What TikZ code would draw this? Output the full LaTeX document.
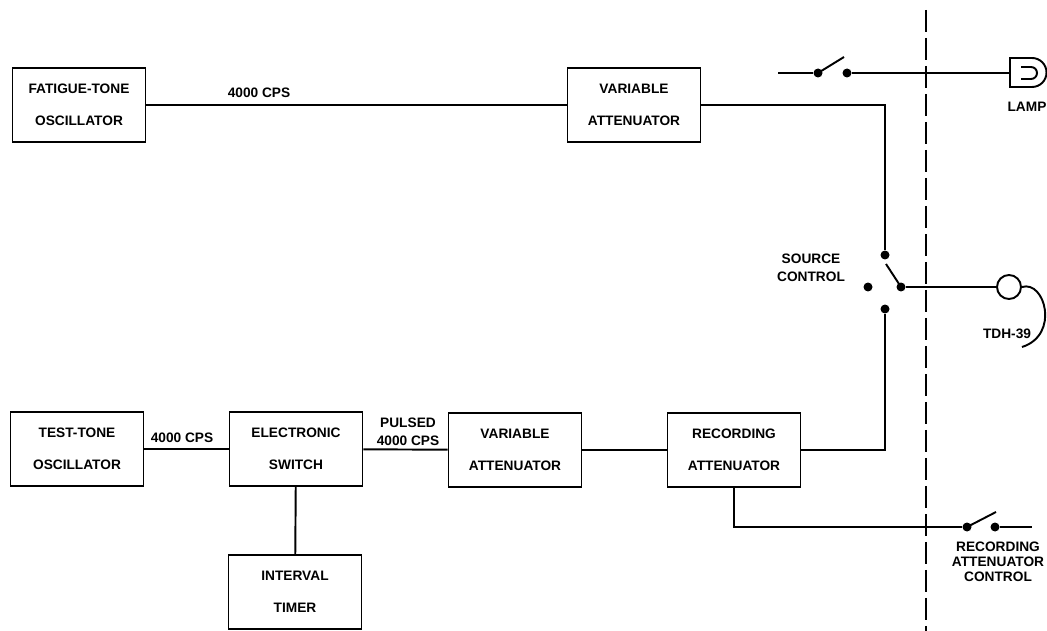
\documentclass[tikz,border=0pt]{standalone}
\usepackage{fontspec}
\setmainfont{Liberation Sans}
\usetikzlibrary{positioning}
\tikzset{block/.style={
    draw, line width=1.1pt, minimum width=2.66cm, minimum height=1.47cm,
    align=center, inner sep=0pt,
    font=\fontsize{7.8}{18.5}\selectfont\bfseries
    },
    lbl/.style={align=center, inner sep=0pt, font=\fontsize{7.8}{10}\selectfont\bfseries},
    dot/.style={circle, fill=black, inner sep=0pt, minimum size=0.18cm}
}

\begin{document}
\begin{tikzpicture}[x=0.02cm, y=-0.02cm, line width=1.1pt]
        \useasboundingbox (0, 0) rectangle (1047, 631);

        \node[block] (fatigue) at (79, 105) {FATIGUE-TONE\\OSCILLATOR};
        \node[block] (varatt1) at (634, 105) {VARIABLE\\ATTENUATOR};
        \node[block] (test) at (77, 449) {TEST-TONE\\OSCILLATOR};
        \node[block] (eswitch) at (296, 449) {ELECTRONIC\\SWITCH};
        \node[block] (timer) at (295, 592) {INTERVAL\\TIMER};
        \node[block] (varatt2) at (515, 450) {VARIABLE\\ATTENUATOR};
        \node[block] (recatt) at (734, 450) {RECORDING\\ATTENUATOR};

        \draw (fatigue) -- (varatt1);
        \node[lbl] (cps1) at (259, 93) {4000 CPS};
        \draw (test) -- (eswitch);
        \node[lbl] (cps2) at (182, 438) {4000 CPS};
        \draw (eswitch) -- (varatt2);
        \node[lbl] (cps3) at (408, 432) {PULSED\\4000 CPS};
        \draw (varatt2) -- (recatt);
        \draw (eswitch) -- (timer);

        \node[dot] (stop) at (885, 255) {};
        \node[dot] (sleft) at (868, 287) {};
        \node[dot] (spivot) at (901, 287) {};
        \node[dot] (sbot) at (885, 309) {};
        \coordinate (sblade) at (886, 264);
        \draw (spivot.center) -- (sblade);
        \draw (varatt1) -| (stop);
        \draw (recatt) -| (sbot);
        \node[lbl] (source) at (811, 268) {SOURCE\\CONTROL};

        \coordinate (dtop) at (926, 10);
        \coordinate (dbot) at (926, 631);
        \draw[dash pattern=on 0.44cm off 0.12cm] (dtop) -- (dbot);

        \coordinate (lin) at (778, 73);
        \node[dot] (ldot1) at (818, 73) {};
        \node[dot] (ldot2) at (847, 73) {};
        \coordinate (lblade) at (844, 57);
        \coordinate (lamp) at (1010, 73);
        \draw (lin) -- (ldot1);
        \draw (ldot1.center) -- (lblade);
        \draw (ldot2) -- (lamp);
        \draw (1032, 58) -- (1010, 58) -- (1010, 87) -- (1032, 87) arc (90:-90:14.5) -- cycle;
        \draw (1021, 67) -- (1031, 67) arc (-90:90:6) -- (1021, 79);
        \node[lbl] (lamplbl) at (1027, 107) {LAMP};

        \node[circle, draw, line width=1.1pt, minimum size=0.48cm, inner sep=0pt] (phone) at (1009, 287) {};
        \draw (spivot) -- (phone);
        \draw (phone.east) .. controls (1045, 280) and (1060, 335) .. (1022, 347);
        \node[lbl] (tdh) at (1007, 334) {TDH-39};

        \node[dot] (rdot1) at (967, 527) {};
        \node[dot] (rdot2) at (995, 527) {};
        \coordinate (rblade) at (996, 512);
        \coordinate (rout) at (1032, 527);
        \draw (recatt.south) |- (rdot1);
        \draw (rdot1.center) -- (rblade);
        \draw (rdot2) -- (rout);
        \node[lbl, font=\fontsize{7.8}{8.5}\selectfont\bfseries] (reclbl) at (998, 562) {RECORDING\\ATTENUATOR\\CONTROL};
    \end{tikzpicture}
\end{document}
